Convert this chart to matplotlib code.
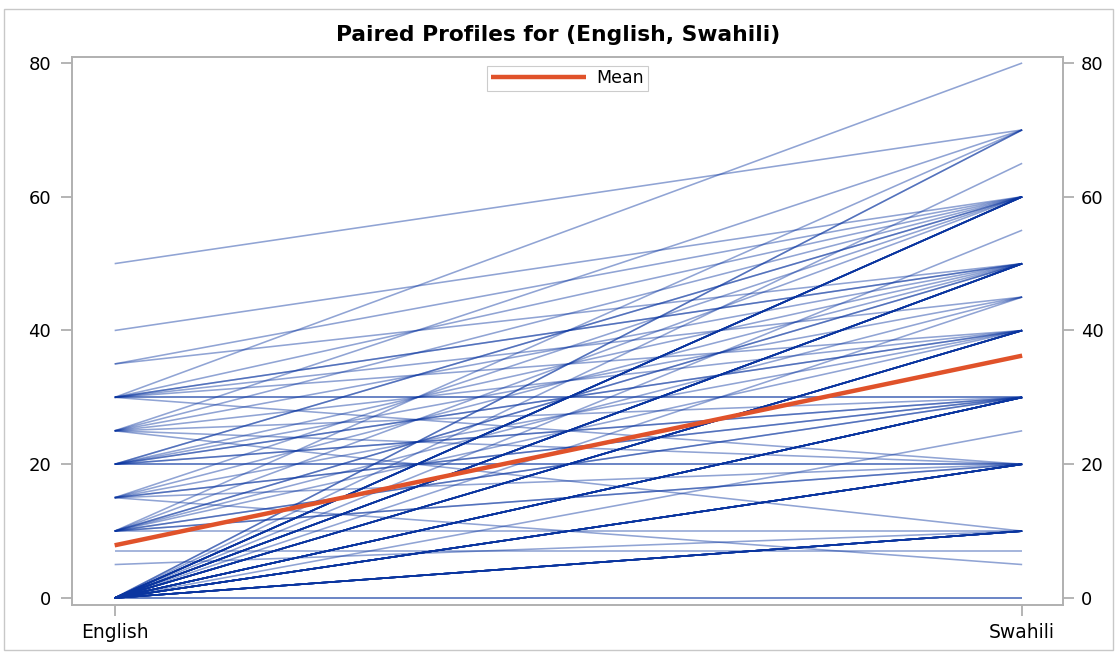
import numpy as np
import matplotlib.pyplot as plt
from matplotlib.patches import Rectangle

plt.rcParams['font.family'] = ['DejaVu Sans']

categories = ["English", "Swahili"]

# paired scores, one entry per subject
english = [50, 40, 35, 35,
           30, 30, 30, 30, 30, 30, 30, 30, 30,
           25, 25, 25, 25, 25, 25, 25,
           20, 20, 20, 20, 20, 20, 20, 20, 20, 20,
           15, 15, 15, 15, 15, 15, 15,
           10, 10, 10, 10, 10, 10, 10, 10, 10, 10, 10,
           7, 5] + [0] * 81
swahili = [70, 60, 60, 50,
           80, 50, 50, 45, 40, 30, 30, 20, 60,
           70, 60, 50, 40, 30, 20, 10,
           60, 60, 50, 40, 40, 30, 30, 20, 20, 45,
           60, 50, 40, 30, 20, 30, 5,
           70, 60, 50, 50, 40, 30, 30, 20, 20, 10, 45,
           7, 10] + \
          [0] * 2 + [10] * 13 + [20] * 14 + [25] + [30] * 14 + [40] * 11 + \
          [45] + [50] * 11 + [55] + [60] * 10 + [65] + [70] * 2

yticks = [0, 20, 40, 60, 80]

eng = np.array(english, dtype=float)
swa = np.array(swahili, dtype=float)

fig = plt.figure(figsize=(11.17, 6.53), dpi=100)
ax = fig.add_axes([72 / 1117, 1 - 605 / 653, 991 / 1117, 548 / 653])

line_col = '#0a35a0'
for e, s in zip(eng, swa):
    ax.plot([0, 1], [e, s], color=line_col, alpha=0.45, lw=1.15,
            solid_capstyle='butt')
ax.plot([0, 1], [eng.mean(), swa.mean()], color='#e0522a', lw=3.2,
        label='Mean', solid_capstyle='butt')

ax.set_xlim(-0.047, 1.045)
ax.set_ylim(-1.05, 80.9)
ax.set_xticks([0, 1])
ax.set_xticklabels(categories, fontsize=13.5)
ax.set_yticks(yticks)
ax.tick_params(axis='y', labelsize=13, length=8, width=1.2,
               color='#a8a8a8', pad=7)
ax.tick_params(axis='x', length=8, width=1.2, color='#a8a8a8', pad=5)
for sp in ax.spines.values():
    sp.set_color('#b0b0b0')
    sp.set_linewidth(1.2)

ax2 = ax.twinx()
ax2.set_ylim(ax.get_ylim())
ax2.set_yticks(yticks)
ax2.tick_params(axis='y', labelsize=13, length=8, width=1.2,
                color='#a8a8a8', pad=5)
for sp in ax2.spines.values():
    sp.set_color('#b0b0b0')
    sp.set_linewidth(1.2)

leg = ax.legend(loc='upper center', bbox_to_anchor=(0.5, 0.99), fontsize=12.5,
                handlelength=5.5, frameon=True, fancybox=False,
                borderpad=0.2, handletextpad=0.6, borderaxespad=0.2)
leg.get_frame().set_edgecolor('#c0c0c0')
leg.get_frame().set_linewidth(0.8)

fig.text(0.5, 1 - 35 / 653, 'Paired Profiles for (English, Swahili)',
         ha='center', va='center', fontsize=15.7, fontweight='bold')

fig.patches.append(Rectangle((4 / 1117, 3 / 653), 1109 / 1117, 641 / 653,
                             transform=fig.transFigure, fill=False,
                             edgecolor='#c8c8c8', lw=1.0))

fig.savefig('out.png', dpi=100)
